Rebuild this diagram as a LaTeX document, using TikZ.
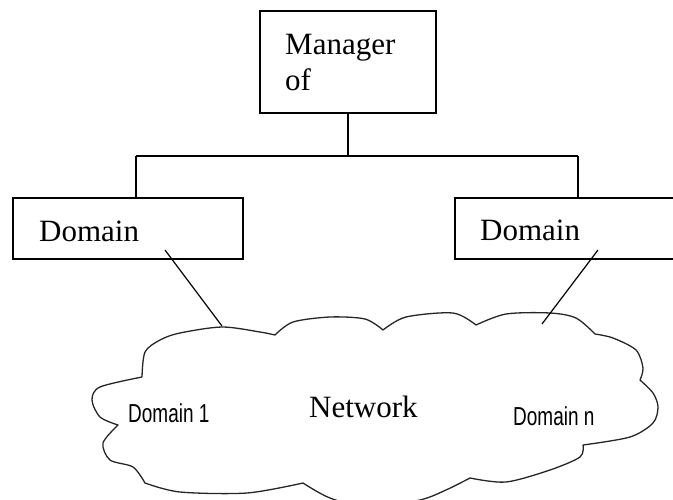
\documentclass[tikz,border=0pt]{standalone}
\usepackage{fontspec}
\setmainfont{Liberation Serif}
\newfontfamily\narrowsans[FakeStretch=0.73]{Liberation Sans}
\begin{document}
\begin{tikzpicture}[x=1pt,y=-1pt,
  box/.style={draw=black, line width=1.4pt, rectangle, inner sep=0pt},
  conn/.style={draw=black, line width=1.4pt},
  serif/.style={inner sep=0pt, anchor=base west, font=\fontsize{31}{36}\selectfont},
  sans/.style={inner sep=0pt, anchor=base west, font=\narrowsans\fontsize{26}{30}\selectfont},
  cloudline/.style={draw=black!85, line width=1.3pt, line join=round}]
\useasboundingbox (0,0) rectangle (673,499);
\clip (0,0) rectangle (673,499);

% boxes
\node[box, minimum width=176pt, minimum height=102pt] (mgr) at (348,62) {};
\node[box, minimum width=230pt, minimum height=61pt] (d1) at (128,228.5) {};
\node[box, minimum width=245pt, minimum height=61pt] (d2) at (577.5,228.5) {};

% texts
\node[serif] (tmgr) at (285,54) {Manager};
\node[serif] (tof) at (285,90) {of};
\node[serif] (td1) at (39,241) {Domain};
\node[serif] (td2) at (480,240) {Domain};

% tree connectors
\coordinate (j) at (348,156);
\coordinate (bl) at (136,156);
\coordinate (br) at (578,156);
\draw[conn] (mgr.south) -- (j);
\draw[conn] (bl) -- (br);
\draw[conn] (bl) -- (bl |- d1.north);
\draw[conn] (br) -- (br |- d2.north);

% cloud
\draw[cloudline]
  plot[smooth] coordinates {(142,377) (145,352) (160,340) (180,333) (222,327) (260,332) (275,335)}
  -- plot[smooth] coordinates {(275,335) (293,322) (330,317) (365,319) (383,330)}
  -- plot[smooth] coordinates {(383,330) (406,317) (453,313) (476,325)}
  -- plot[smooth] coordinates {(476,325) (506,314) (550,313) (576,318) (595,334)}
  -- plot[smooth] coordinates {(595,334) (613,338) (636,350) (643,368) (640,380)}
  -- plot[smooth] coordinates {(640,380) (653,393) (658,407) (653,423) (630,437) (583,445)}
  -- plot[smooth] coordinates {(583,445) (580,457) (550,470) (506,482) (470,478)}
  -- plot[smooth] coordinates {(470,478) (446,490) (420,500) (370,508) (330,498) (303,483)}
  -- plot[smooth] coordinates {(303,483) (247,493) (180,492) (145,483)}
  -- plot[smooth] coordinates {(145,483) (133,467) (110,460) (103,443) (118,425)}
  -- plot[smooth] coordinates {(118,425) (100,417) (92,400) (100,387) (142,377)};

\node[serif] (tnet) at (309,417) {Network};
\node[sans] (tdom1) at (128,422) {Domain 1};
\node[sans] (tdomn) at (513,425) {Domain n};

% domain-to-cloud lines
\coordinate (s1) at (165,250);
\coordinate (c1) at (222,326);
\coordinate (s2) at (598,250);
\coordinate (c2) at (542,324);
\draw[conn, line width=1.2pt] (s1) -- (c1);
\draw[conn, line width=1.2pt] (s2) -- (c2);
\end{tikzpicture}
\end{document}
